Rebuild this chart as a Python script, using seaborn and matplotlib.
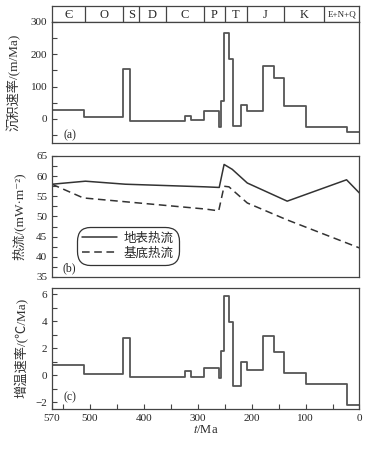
import numpy as np
import pandas as pd
import seaborn as sns
import matplotlib
matplotlib.use("Agg")
import matplotlib.pyplot as plt
from matplotlib.ticker import MultipleLocator, FixedLocator

# geologic periods (Ma)
period_edges = [570, 508, 438, 408, 359, 289, 250, 209, 140, 65, 0]
period_names = ["Є", "O", "S", "D", "C", "P", "T", "J", "K", "E+N+Q"]

# step series: interval edges (Ma) and rates per interval
step_edges = [570, 510, 438, 425, 324, 312, 289, 260, 256, 251, 242, 235, 220, 208, 178, 158, 140, 99, 23, 0]
sed_rate = [29, 5, 153, -6, 9, -2, 25, -25, 55, 264, 185, -22, 44, 25, 164, 125, 41, -25, -40]
heat_rate = [0.8, 0.1, 2.75, -0.12, 0.32, -0.12, 0.52, -0.2, 1.78, 5.9, 3.95, -0.8, 1.0, 0.4, 2.9, 1.75, 0.2, -0.62, -2.22]

# heat flow
surf_t = [570, 508, 434, 286, 260, 251, 236, 208, 134, 24, 0]
surf_q = [58.0, 58.75, 58.0, 57.35, 57.2, 62.9, 61.7, 58.3, 53.8, 59.1, 55.8]
base_t = [570, 512, 286, 261, 251, 242, 208, 135, 0]
base_q = [58.0, 54.6, 51.85, 51.4, 57.5, 57.35, 53.35, 49.2, 42.2]

sns.set_style("ticks")
plt.rcParams['font.family'] = ['Liberation Serif', 'Noto Sans CJK SC', 'DejaVu Serif']
plt.rcParams['mathtext.fontset'] = 'stix'
plt.rcParams['xtick.direction'] = 'in'
plt.rcParams['ytick.direction'] = 'in'
plt.rcParams['axes.edgecolor'] = '#444444'
plt.rcParams['axes.linewidth'] = 0.9

fig = plt.figure(figsize=(3.73, 4.49), dpi=100)
L, W = 0.1394, 0.8244
ax_s = fig.add_axes([L, 0.9517, W, 0.0349])
ax_a = fig.add_axes([L, 0.6808, W, 0.2709])
ax_b = fig.add_axes([L, 0.3831, W, 0.2695])
ax_c = fig.add_axes([L, 0.0891, W, 0.2701])

# period strip
ax_s.set_xlim(570, 0)
ax_s.set_ylim(0, 1)
ax_s.set_xticks([])
ax_s.set_yticks([])
for e in period_edges[1:-1]:
    ax_s.axvline(e, color='#444444', lw=0.9)
for i, name in enumerate(period_names):
    mid = (period_edges[i] + period_edges[i + 1]) / 2
    fs = 6.5 if len(name) > 1 else 9
    ax_s.text(mid, 0.45, name, ha='center', va='center', fontsize=fs)


def step_df(vals):
    return pd.DataFrame({"t": step_edges, "v": list(vals) + [vals[-1]]})


line_col = '#555555'
sns.lineplot(data=step_df(sed_rate), x="t", y="v", ax=ax_a, sort=False, estimator=None,
             drawstyle='steps-post', color=line_col, lw=1.3)
sns.lineplot(data=step_df(heat_rate), x="t", y="v", ax=ax_c, sort=False, estimator=None,
             drawstyle='steps-post', color=line_col, lw=1.3)

sns.lineplot(x=surf_t, y=surf_q, ax=ax_b, sort=False, estimator=None, color='#333333',
             lw=1.1, label='地表热流')
sns.lineplot(x=base_t, y=base_q, ax=ax_b, sort=False, estimator=None, color='#333333',
             lw=1.1, ls=(0, (5, 3)), label='基底热流')

for ax in (ax_a, ax_b, ax_c):
    ax.set_xlim(570, 0)
    ax.tick_params(labelsize=8, length=3.5, width=0.8, color='#444444')
    ax.tick_params(which='minor', length=3.5, width=0.8, color='#444444')

ax_a.set_ylim(-75, 300)
ax_a.yaxis.set_major_locator(MultipleLocator(100))
ax_a.yaxis.set_minor_locator(MultipleLocator(50))
ax_b.set_ylim(35, 65)
ax_b.yaxis.set_major_locator(MultipleLocator(5))
ax_b.yaxis.set_minor_locator(MultipleLocator(2.5))
ax_c.set_ylim(-2.5, 6.5)
ax_c.yaxis.set_major_locator(MultipleLocator(2))
ax_c.yaxis.set_minor_locator(MultipleLocator(1))

for ax in (ax_a, ax_b):
    ax.set_xticks([])
    ax.set_xlabel("")
ax_c.xaxis.set_major_locator(FixedLocator([570, 500, 400, 300, 200, 100, 0]))
ax_c.xaxis.set_minor_locator(FixedLocator(np.arange(50, 570, 50)))

ax_a.set_ylabel("沉积速率/(m/Ma)", fontsize=9.5, color='#333333')
ax_b.set_ylabel("热流/(mW·m⁻²)", fontsize=9.5, color='#333333')
ax_c.set_ylabel("增温速率/(℃/Ma)", fontsize=9.5, color='#333333')
ax_c.set_xlabel("$t$/Ma", fontsize=9, labelpad=1)
ax_a.yaxis.set_label_coords(-0.1, 0.5)
ax_b.yaxis.set_label_coords(-0.085, 0.5)
ax_c.yaxis.set_label_coords(-0.075, 0.5)

ax_a.text(0.036, 0.07, "(a)", transform=ax_a.transAxes, fontsize=8.5, va='center')
ax_b.text(0.033, 0.075, "(b)", transform=ax_b.transAxes, fontsize=8.5, va='center')
ax_c.text(0.036, 0.10, "(c)", transform=ax_c.transAxes, fontsize=8.5, va='center')

leg = ax_b.legend(loc='lower left', bbox_to_anchor=(0.09, 0.125), fontsize=9,
                  handlelength=2.8, handletextpad=0.5, labelspacing=0.2,
                  borderpad=0.2, borderaxespad=0, frameon=True, fancybox=True, framealpha=1)
leg.get_frame().set_edgecolor('#333333')
leg.get_frame().set_linewidth(0.9)
leg.get_frame().set_boxstyle('round', pad=0.25, rounding_size=1.1)

fig.savefig("out.png", dpi=100)
